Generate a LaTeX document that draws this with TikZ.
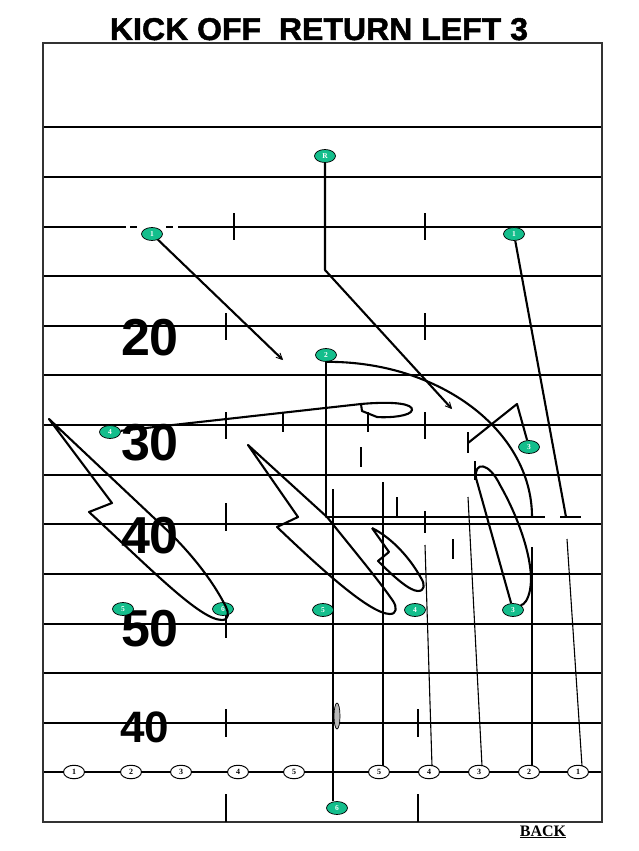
\documentclass[tikz,border=0pt]{standalone}
\usepackage{fontspec}
\usetikzlibrary{shapes.geometric,arrows.meta}
\newfontfamily\arialfont{Liberation Sans}
\newfontfamily\titlefont{Liberation Sans}[BoldFeatures={FakeBold=1.5}]
\newfontfamily\timesfont{Liberation Serif}
\definecolor{mint}{RGB}{20,190,140}
\begin{document}
\begin{tikzpicture}[x=1pt,y=-1pt,
  fthin/.style={line width=1.4pt,black},
  fthick/.style={line width=2.3pt,black},
  route/.style={line width=2.1pt,black,line join=round},
  thinroute/.style={line width=1.1pt,black},
  blockbar/.style={line width=2.1pt,black},
  gp/.style={ellipse,draw=black,line width=0.7pt,fill=mint,minimum width=21pt,minimum height=13pt,inner sep=0pt,text=white,font=\timesfont\bfseries\fontsize{7.5}{7.5}\selectfont},
  wp/.style={ellipse,draw=black,line width=1pt,fill=white,minimum width=21pt,minimum height=13.5pt,inner sep=0pt,text=black,font=\timesfont\bfseries\fontsize{8}{8}\selectfont},
  yardnum/.style={anchor=base,inner sep=0pt,font=\arialfont\bfseries\fontsize{52}{52}\selectfont},
  tip/.style={-{Straight Barb[length=6pt,width=6pt,line width=0.9pt]}}
]
\useasboundingbox (0,0) rectangle (638,851);
\fill[white] (0,0) rectangle (638,851);
% title
\node[anchor=base,inner sep=0pt] (title) at (319,40) {\resizebox{418pt}{22pt}{\titlefont\bfseries KICK OFF\ \ RETURN LEFT 3}};
% field lines
\foreach \y in {127,177,425,475,524,574,624,673,723,772}
  \draw[fthin] (43,\y) -- (602,\y);
\foreach \y in {276,326,375}
  \draw[fthick] (43,\y) -- (602,\y);
\draw[fthick] (43,227) -- (126,227);
\draw[fthick] (130,227) -- (137,227);
\draw[fthick] (166,227) -- (173,227);
\draw[fthick] (178,227) -- (602,227);
\draw[line width=1.6pt,black!80] (43,43) rectangle (602,822);
% hash marks
\foreach \x/\a/\b in {234/213/240, 425/213/240, 226/313/340, 425/313/340, 226/412/439, 425/412/439, 226/503/531, 425/511/533, 226/612/638, 226/709/737, 418/709/737, 226/794/822, 418/794/822}
  \draw[fthin] (\x,\a) -- (\x,\b);
% yard numbers
\node[yardnum] (n20) at (150,355) {20};
\node[yardnum] (n30) at (150,460) {30};
\node[yardnum] (n40) at (150,553) {40};
\node[yardnum] (n50) at (150,646) {50};
\node[anchor=base,inner sep=0pt,font=\arialfont\bfseries\fontsize{44}{44}\selectfont] (n40b) at (145,742) {40};
% BACK
\node[anchor=base,inner sep=0pt,font=\timesfont\bfseries\fontsize{16}{16}\selectfont] (back) at (543,836) {\underline{BACK}};
% block bars
\draw[blockbar] (283,412) -- (283,432);
\draw[blockbar] (368,412) -- (368,432);
\draw[blockbar] (361,447) -- (361,467);
\draw[blockbar] (397,497) -- (397,517);
\draw[blockbar] (453,539) -- (453,559);
% coordinates
\coordinate (rturn) at (325,270);
\coordinate (rend) at (452,409);
\coordinate (l1end) at (283,360);
\coordinate (r1end) at (566,517);
\coordinate (twoend) at (326,517);
\coordinate (lineend) at (545,517);
\coordinate (r3peak) at (517,404);
\coordinate (r3end) at (468,443);
\coordinate (k6top) at (333,489);
\coordinate (k5top) at (383,482);
\coordinate (k4top) at (425,545);
\coordinate (k3top) at (468,497);
\coordinate (k2top) at (532,547);
\coordinate (k1top) at (567,539);
% football
\node[ellipse,draw=black,line width=0.7pt,fill=gray!55,minimum width=6pt,minimum height=26pt,inner sep=0pt] (ball) at (337,716) {};
% kickoff team ovals
\node[wp] (k1a) at (74,772) {1};
\node[wp] (k2a) at (131,772) {2};
\node[wp] (k3a) at (181,772) {3};
\node[wp] (k4a) at (238,772) {4};
\node[wp] (k5a) at (294,772) {5};
\node[wp] (k5) at (379,772) {5};
\node[wp] (k4) at (429,772) {4};
\node[wp] (k3) at (479,772) {3};
\node[wp] (k2) at (529,772) {2};
\node[wp] (k1) at (578,772) {1};
\draw[thinroute] (333,801) -- (k6top);
\draw[thinroute] (383,766) -- (k5top);
\draw[thinroute] (432,766) -- (k4top);
\draw[thinroute] (482,766) -- (k3top);
\draw[thinroute] (532,766) -- (k2top);
\draw[thinroute] (582,766) -- (k1top);
% return team ovals
\node[gp] (R) at (325,156) {R};
\node[gp] (l1) at (152,234) {1};
\node[gp] (r1) at (514,234) {1};
\node[gp] (two) at (326,355) {2};
\node[gp] (l4) at (110,432) {4};
\node[gp] (r3) at (529,447) {3};
\node[gp] (l5) at (123,609) {5};
\node[gp] (l6) at (223,609) {6};
\node[gp] (m5) at (323,610) {5};
\node[gp] (m4) at (415,610) {4};
\node[gp] (m3) at (513,610) {3};
\node[gp] (b6) at (337,808) {6};
% routes
\draw[route,tip] (R) -- (rturn) -- (rend);
\draw[route,tip] (l1) -- (l1end);
\draw[route] (r1) -- (r1end);
\draw[route] (560,517) -- (581,517);
\draw[route] (two.south) -- (twoend) -- (lineend);
\draw[route] (two.south) .. controls (440,361) and (532,431) .. (532,517);
\draw[route] (r3) -- (r3peak) -- (r3end);
\draw[route] (468,432) -- (468,453);
\draw[route] (m3) -- (476,478) .. controls (474,461) and (489,462) .. (500,485) .. controls (520,520) and (535,565) .. (530,590) .. controls (528,600) and (524,605) .. (m3.north east);
\draw[route] (475,461) -- (475,480);
\draw[route] (l4) -- (361,404) .. controls (395,401) and (413,404) .. (412,410) .. controls (411,416) and (390,418) .. (377,417) -- (362,411) -- (361,404);
\draw[route] (49,419) -- (112,503) -- (89,512) .. controls (150,568) and (200,620) .. (222,620) .. controls (229,620) and (229,613) .. (226,607) .. controls (214,583) and (195,558) .. (170,533) -- cycle;
\draw[route] (248,445) -- (298,517) -- (277,527) .. controls (320,568) and (370,614) .. (390,614) .. controls (397,614) and (397,607) .. (393,601) .. controls (380,582) and (360,558) .. (327,517) -- cycle;
\draw[route] (372,528) -- (389,552) -- (378,561) .. controls (395,578) and (410,591) .. (418,591) .. controls (425,591) and (425,584) .. (421,578) .. controls (410,558) and (392,538) .. (372,528);
\end{tikzpicture}
\end{document}
